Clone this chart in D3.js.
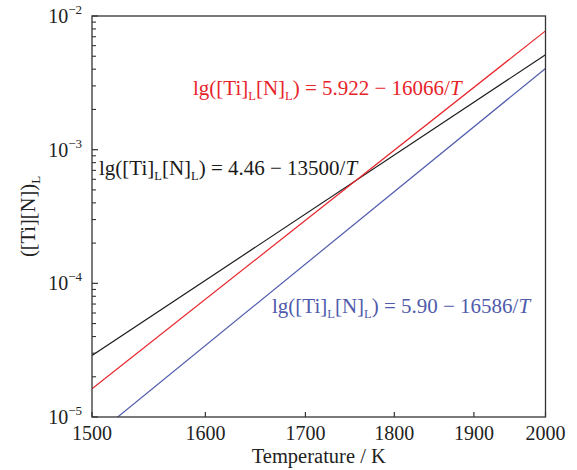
<!DOCTYPE html>
<html><head><meta charset="utf-8">
<script src="https://cdn.jsdelivr.net/npm/d3@7"></script>
<style>body{margin:0;background:#fff}svg{display:block}</style>
</head><body><svg id="c" width="577" height="470" font-family="'Liberation Serif', 'Times New Roman', serif"></svg>
<script>
// Data (T in K, [Ti][N] product)
const temps = [1500, 2000];
const blackVals = [2.88e-5, 5.13e-3];
const redVals = [1.627e-5, 7.74e-3];
const blueVals = [6.97e-6, 4.05e-3];
const xTicks = [1500, 1600, 1700, 1800, 1900, 2000];
const yTicks = [1e-5, 1e-4, 1e-3, 1e-2];
const yTickExp = ["−5", "−4", "−3", "−2"];

const svg = d3.select("#c");
const L = 92, R = 545.5, T = 16, B = 417;
// x axis is linear in 1/T
const xInv = d3.scaleLinear().domain([1/1500, 1/2000]).range([L, R]);
const x = t => xInv(1/t);
const y = d3.scaleLog().domain([1e-5, 1e-2]).range([B, T]);

svg.append("defs").append("clipPath").attr("id","clip")
  .append("rect").attr("x",L).attr("y",T).attr("width",R-L).attr("height",B-T);

const series = [
  {vals: blackVals, color: "#1a1a1a"},
  {vals: redVals, color: "#e8242b"},
  {vals: blueVals, color: "#4f5bab"}
];
const line = d3.line().x(d => x(d[0])).y(d => y(d[1]));
series.forEach(s => {
  svg.append("path").attr("clip-path","url(#clip)")
    .attr("d", line(temps.map((t,i)=>[t, s.vals[i]])))
    .attr("fill","none").attr("stroke", s.color).attr("stroke-width", 1.2);
});

// frame
svg.append("rect").attr("x",L).attr("y",T).attr("width",R-L).attr("height",B-T)
  .attr("fill","none").attr("stroke","#333").attr("stroke-width",1.3);

// x axis ticks
const xa = svg.append("g");
xTicks.forEach(t => {
  xa.append("line").attr("x1",x(t)).attr("x2",x(t)).attr("y1",B).attr("y2",B-5)
    .attr("stroke","#333").attr("stroke-width",1.2);
  xa.append("text").attr("x",x(t)).attr("y",B+23).attr("text-anchor","middle")
    .attr("font-size",20).attr("fill","#222").text(t);
});
// y axis ticks (major + minor)
const ya = svg.append("g");
for (let e = -5; e < -2; e++) {
  for (let m = 2; m <= 9; m++) {
    const v = m * Math.pow(10, e);
    ya.append("line").attr("x1",L).attr("x2",L+4).attr("y1",y(v)).attr("y2",y(v))
      .attr("stroke","#333").attr("stroke-width",1.1);
  }
}
yTicks.forEach((v,i) => {
  ya.append("line").attr("x1",L).attr("x2",L+6).attr("y1",y(v)).attr("y2",y(v))
    .attr("stroke","#333").attr("stroke-width",1.2);
  const tx = ya.append("text").attr("x",82).attr("y",y(v)+7).attr("text-anchor","end")
    .attr("font-size",20).attr("fill","#222");
  tx.append("tspan").text("10");
  tx.append("tspan").attr("dy",-9).attr("font-size",13).text(yTickExp[i]);
});

// axis titles
svg.append("text").attr("x",(L+R)/2).attr("y",463).attr("text-anchor","middle")
  .attr("font-size",20.5).attr("fill","#222").text("Temperature / K");
const yl = svg.append("text").attr("transform",`translate(35,${(T+B)/2}) rotate(-90)`)
  .attr("text-anchor","middle").attr("font-size",20.5).attr("fill","#222");
yl.append("tspan").text("([Ti][N])");
yl.append("tspan").attr("dy",5).attr("font-size",13).text("L");

// annotations
const labels = [
  {x: 193, y: 95, a: "5.922", b: "16066", color: "#e8242b"},
  {x: 99, y: 175, a: "4.46", b: "13500", color: "#1a1a1a"},
  {x: 272, y: 313, a: "5.90", b: "16586", color: "#4f5bab"}
];
labels.forEach(l => {
  const t = svg.append("text").attr("x",l.x).attr("y",l.y).attr("font-size",21).attr("fill",l.color);
  t.append("tspan").text("lg([Ti]");
  t.append("tspan").attr("dy",5).attr("font-size",12.5).text("L");
  t.append("tspan").attr("dy",-5).text("[N]");
  t.append("tspan").attr("dy",5).attr("font-size",12.5).text("L");
  t.append("tspan").attr("dy",-5).text(`) = ${l.a} − ${l.b}/`);
  t.append("tspan").attr("font-style","italic").text("T");
});
</script></body></html>
